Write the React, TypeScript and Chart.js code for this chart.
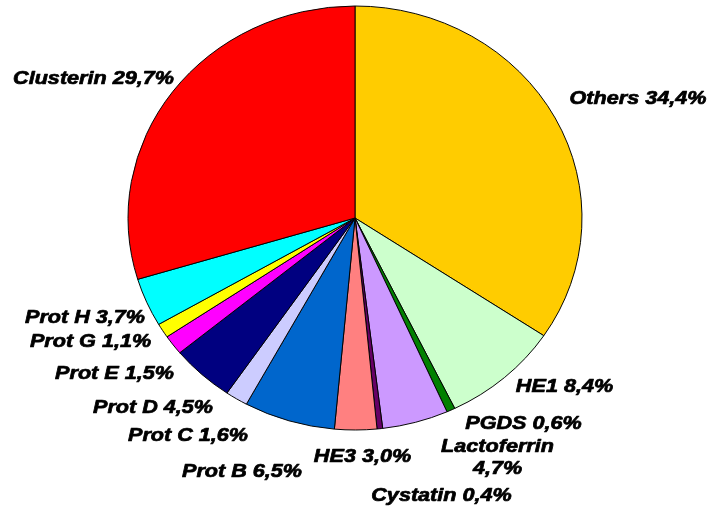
import React, { useEffect, useRef } from 'react';
import { Chart, registerables } from 'chart.js';

Chart.register(...registerables);

// ---- data ----
const categories = ['Others', 'HE1', 'PGDS', 'Lactoferrin', 'Cystatin', 'HE3', 'Prot B', 'Prot C', 'Prot D', 'Prot E', 'Prot G', 'Prot H', 'Clusterin'];
const shares = [34.4, 8.4, 0.6, 4.7, 0.4, 3.0, 6.5, 1.6, 4.5, 1.5, 1.1, 3.7, 29.7];
const sliceColors = ['#FFCC00', '#CCFFCC', '#008000', '#CC99FF', '#660066', '#FF8080', '#0066CC', '#CCCCFF', '#000080', '#FF00FF', '#FFFF00', '#00FFFF', '#FF0000'];
// labels that wrap onto two lines (name / value)
const twoLineLabels = ['Lactoferrin'];

// ---- layout (label centres relative to the pie centre, px at radius 227) ----
const labelOffsets: [number, number][] = [
  [283, -121],
  [209.5, 167],
  [168.5, 204],
  [142.5, 238],
  [86.5, 276],
  [7.5, 237],
  [-113, 252],
  [-167, 216],
  [-202, 188],
  [-240.5, 154],
  [-264.5, 122],
  [-270, 98],
  [-261.5, -141],
];
const PIE_RADIUS = 227;
const Y_SQUASH = 212 / 227;
const TEXT_STRETCH = 1.2;
const FONT = 'italic bold 18px "Liberation Sans", Arial, sans-serif';

const fmt = (v: number) => v.toFixed(1).replace('.', ',') + '%';

const ellipsePlugin = {
  id: 'ellipse',
  beforeDatasetsDraw(chart: any) {
    const arc = chart.getDatasetMeta(0).data[0];
    if (!arc) return;
    const ctx = chart.ctx;
    ctx.save();
    ctx.translate(arc.x, arc.y);
    ctx.scale(1, Y_SQUASH);
    ctx.translate(-arc.x, -arc.y);
  },
  afterDatasetsDraw(chart: any) {
    chart.ctx.restore();
  },
  afterDraw(chart: any) {
    const meta = chart.getDatasetMeta(0);
    const arc = meta.data[0];
    if (!arc) return;
    const ctx = chart.ctx;
    const k = arc.outerRadius / PIE_RADIUS;
    ctx.save();
    ctx.font = FONT;
    ctx.fillStyle = '#000';
    ctx.strokeStyle = '#000';
    ctx.lineWidth = 0.7;
    ctx.lineJoin = 'round';
    ctx.textAlign = 'center';
    ctx.textBaseline = 'alphabetic';
    categories.forEach((name, i) => {
      const [dx, dy] = labelOffsets[i];
      const x = arc.x + dx * k;
      const y = arc.y + dy * k;
      const lines = twoLineLabels.includes(name) ? [name, fmt(shares[i])] : [name + ' ' + fmt(shares[i])];
      const lh = 22;
      lines.forEach((ln, j) => {
        const ly = y + (j - (lines.length - 1) / 2) * lh + 6.5;
        ctx.save();
        ctx.translate(x, ly);
        ctx.scale(TEXT_STRETCH, 1);
        ctx.fillText(ln, 0, 0);
        ctx.strokeText(ln, 0, 0);
        ctx.restore();
      });
    });
    ctx.restore();
  },
};

export default function App() {
  const ref = useRef<HTMLCanvasElement | null>(null);
  useEffect(() => {
    if (!ref.current) return;
    const chart = new Chart(ref.current, {
      type: 'pie',
      data: {
        labels: categories,
        datasets: [
          {
            data: shares,
            backgroundColor: sliceColors,
            borderColor: '#000000',
            borderWidth: 1,
            radius: PIE_RADIUS,
            clip: false,
          } as any,
        ],
      },
      options: {
        responsive: false,
        animation: false,
        devicePixelRatio: 1,
        layout: { padding: { left: 0, right: 3, top: 0, bottom: 72 } },
        plugins: {
          legend: { display: false },
          tooltip: { enabled: false },
        },
      },
      plugins: [ellipsePlugin],
    });
    return () => chart.destroy();
  }, []);
  return (
    <div style={{ position: 'absolute', left: 0, top: 0, width: 713, height: 508, background: '#fff' }}>
      <canvas ref={ref} width={713} height={508} />
    </div>
  );
}
